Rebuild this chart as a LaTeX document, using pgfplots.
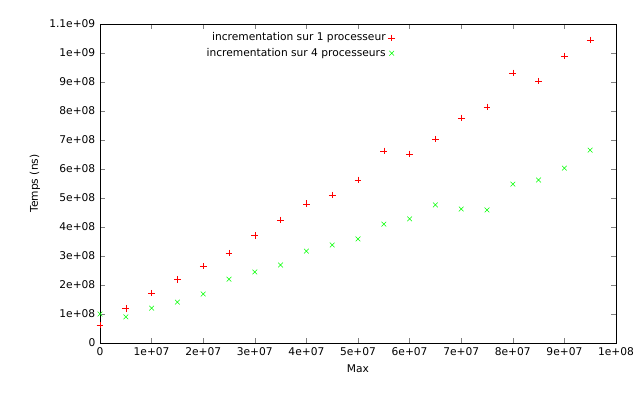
\documentclass[border=0pt]{standalone}
\usepackage{pgfplots}
\pgfplotsset{compat=1.18}
\usepackage{fontspec}
\setmainfont{DejaVu Sans}
\begin{document}
\begin{tikzpicture}
\useasboundingbox (0pt,0pt) rectangle (480pt,300pt);
\begin{axis}[at={(75pt,42.75pt)},anchor=south west,
 scale only axis, width=387pt, height=239.25pt,
 xmin=0,xmax=1e8,ymin=0,ymax=1.1e9,
 font=\fontsize{8}{10}\selectfont,
 tick align=inside, xtick pos=both, ytick pos=both,
 major tick length=4pt,
 xtick={0,1e7,2e7,3e7,4e7,5e7,6e7,7e7,8e7,9e7,1e8},
 xticklabels={0,1e+07,2e+07,3e+07,4e+07,5e+07,6e+07,7e+07,8e+07,9e+07,1e+08},
 ytick={0,1e8,2e8,3e8,4e8,5e8,6e8,7e8,8e8,9e8,1e9,1.1e9},
 yticklabels={0,1e+08,2e+08,3e+08,4e+08,5e+08,6e+08,7e+08,8e+08,9e+08,1e+09,1.1e+09},
 scaled ticks=false,
 xlabel={Max}, ylabel={Temps (ns)},
 legend style={draw=none,fill=none,at={(0.58,0.99)},anchor=north east,font=\fontsize{8}{10}\selectfont},
 legend cell align=right, legend plot pos=right,
]
\addplot[only marks,mark=+,red,mark size=2.5pt] coordinates {
(0,6.2e7)(5e6,1.2e8)(1e7,1.72e8)(1.5e7,2.2e8)(2e7,2.65e8)(2.5e7,3.1e8)(3e7,3.7e8)(3.5e7,4.24e8)(4e7,4.8e8)(4.5e7,5.1e8)(5e7,5.62e8)(5.5e7,6.62e8)(6e7,6.52e8)(6.5e7,7.03e8)(7e7,7.76e8)(7.5e7,8.14e8)(8e7,9.31e8)(8.5e7,9.03e8)(9e7,9.9e8)(9.5e7,1.045e9)};
\addlegendentry{incrementation sur 1 processeur}
\addplot[only marks,mark=x,green,mark size=2.5pt] coordinates {
(0,1.0e8)(5e6,0.9e8)(1e7,1.2e8)(1.5e7,1.41e8)(2e7,1.69e8)(2.5e7,2.2e8)(3e7,2.45e8)(3.5e7,2.69e8)(4e7,3.17e8)(4.5e7,3.38e8)(5e7,3.59e8)(5.5e7,4.1e8)(6e7,4.28e8)(6.5e7,4.76e8)(7e7,4.62e8)(7.5e7,4.59e8)(8e7,5.48e8)(8.5e7,5.62e8)(9e7,6.03e8)(9.5e7,6.65e8)};
\addlegendentry{incrementation sur 4 processeurs}
\end{axis}
\end{tikzpicture}
\end{document}
